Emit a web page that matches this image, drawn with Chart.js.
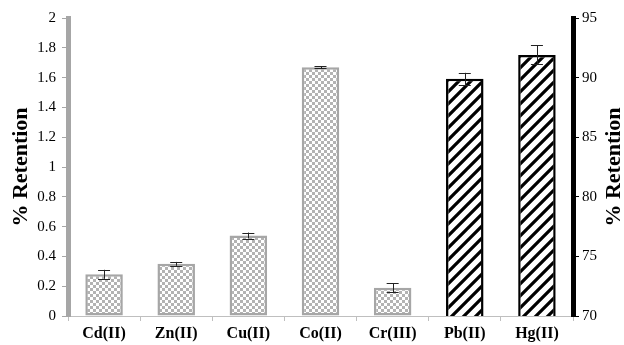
<!DOCTYPE html>
<html>
<head>
<meta charset="utf-8">
<script src="https://cdn.jsdelivr.net/npm/chart.js@4/dist/chart.umd.min.js"></script>
<style>
  html, body { margin: 0; padding: 0; background: #ffffff; }
  #wrap { width: 624px; height: 345px; }
</style>
</head>
<body>
<div id="wrap"><canvas id="c"></canvas></div>
<script>
// Metal ions and their retention (%); the first five are read on the left axis,
// Pb(II) and Hg(II) on the right axis.
const categories = ['Cd(II)', 'Zn(II)', 'Cu(II)', 'Co(II)', 'Cr(III)', 'Pb(II)', 'Hg(II)'];
const leftValues  = [0.28, 0.35, 0.54, 1.67, 0.19, null, null];
const leftErrors  = [0.03, 0.013, 0.02, 0.006, 0.03, null, null];
const rightValues = [null, null, null, null, null, 89.9, 91.9];
const rightErrors = [null, null, null, null, null, 0.5, 0.8];
const leftTickLabels  = ['0', '0.2', '0.4', '0.6', '0.8', '1', '1.2', '1.4', '1.6', '1.8', '2'];
const rightTickLabels = ['70', '75', '80', '85', '90', '95'];
const axisTitle = '% Retention';

const SERIF = "'Liberation Serif', 'Times New Roman', serif";
const GREY = '#a6a6a6';

function checkerPattern() {
  const p = document.createElement('canvas');
  p.width = 6; p.height = 6;
  const g = p.getContext('2d');
  g.fillStyle = '#ffffff';
  g.fillRect(0, 0, 6, 6);
  g.fillStyle = '#b3b3b3';
  g.fillRect(0, 0, 3, 3);
  g.fillRect(3, 3, 3, 3);
  return g.createPattern(p, 'repeat');
}

function hatchPattern() {
  const s = 12;
  const p = document.createElement('canvas');
  p.width = s; p.height = s;
  const g = p.getContext('2d');
  g.fillStyle = '#ffffff';
  g.fillRect(0, 0, s, s);
  g.strokeStyle = '#000000';
  g.lineWidth = 3.2;
  g.lineCap = 'square';
  g.beginPath();
  g.moveTo(-s, s); g.lineTo(s, -s);
  g.moveTo(0, s * 2); g.lineTo(s * 2, 0);
  g.moveTo(0, s); g.lineTo(s, 0);
  g.stroke();
  return g.createPattern(p, 'repeat');
}

// Error bars with caps, positioned through each dataset's own y scale.
const errorBars = {
  id: 'errorBars',
  afterDatasetsDraw(chart) {
    const ctx = chart.ctx;
    chart.data.datasets.forEach((ds, di) => {
      const meta = chart.getDatasetMeta(di);
      const scale = chart.scales[ds.yAxisID];
      ds.data.forEach((v, i) => {
        const e = ds.errors[i];
        if (v == null || e == null) return;
        const x = meta.data[i].x;
        const yTop = scale.getPixelForValue(v + e);
        const yBot = scale.getPixelForValue(v - e);
        ctx.save();
        ctx.strokeStyle = '#222222';
        ctx.lineWidth = 1;
        ctx.beginPath();
        ctx.moveTo(Math.round(x) + 0.5, yTop);
        ctx.lineTo(Math.round(x) + 0.5, yBot);
        ctx.moveTo(x - 6, Math.round(yTop) + 0.5);
        ctx.lineTo(x + 6, Math.round(yTop) + 0.5);
        ctx.moveTo(x - 6, Math.round(yBot) + 0.5);
        ctx.lineTo(x + 6, Math.round(yBot) + 0.5);
        ctx.stroke();
        ctx.restore();
      });
    });
  }
};

// Title for the right-hand axis, reading bottom to top like the left one.
const rightTitle = {
  id: 'rightTitle',
  afterDraw(chart) {
    const ctx = chart.ctx;
    const area = chart.chartArea;
    ctx.save();
    ctx.translate(614, (area.top + area.bottom) / 2);
    ctx.rotate(-Math.PI / 2);
    ctx.font = 'bold 22px ' + SERIF;
    ctx.fillStyle = '#000000';
    ctx.textAlign = 'center';
    ctx.textBaseline = 'middle';
    ctx.fillText(axisTitle, 0, 0);
    ctx.restore();
  }
};

new Chart(document.getElementById('c'), {
  type: 'bar',
  data: {
    labels: categories,
    datasets: [
      {
        data: leftValues,
        errors: leftErrors,
        yAxisID: 'y',
        backgroundColor: checkerPattern(),
        borderColor: GREY,
        borderWidth: 2.5,
        borderSkipped: false
      },
      {
        data: rightValues,
        errors: rightErrors,
        yAxisID: 'y1',
        backgroundColor: hatchPattern(),
        borderColor: '#000000',
        borderWidth: 2.5,
        borderSkipped: false
      }
    ]
  },
  options: {
    responsive: true,
    maintainAspectRatio: false,
    animation: false,
    devicePixelRatio: 1,
    grouped: false,
    barPercentage: 0.52,
    categoryPercentage: 1.0,
    layout: { padding: { top: 18, left: 0, right: 0, bottom: 0 } },
    plugins: {
      legend: { display: false },
      tooltip: { enabled: false }
    },
    scales: {
      x: {
        offset: true,
        afterFit(s) { s.height = 29; },
        grid: {
          offset: true,
          drawOnChartArea: false,
          drawTicks: true,
          tickLength: 5,
          color: '#bfbfbf'
        },
        border: { display: true, color: '#bfbfbf', width: 1 },
        ticks: {
          color: '#000000',
          padding: 3,
          font: { family: SERIF, size: 16, weight: 'bold' }
        }
      },
      y: {
        position: 'left',
        min: 0,
        max: 2,
        afterFit(s) { s.width = 68; },
        afterBuildTicks(s) {
          s.ticks = leftTickLabels.map(t => ({ value: parseFloat(t) }));
        },
        grid: {
          drawOnChartArea: false,
          drawTicks: true,
          tickLength: 6,
          color: GREY
        },
        border: { display: true, color: GREY, width: 5 },
        ticks: {
          color: '#000000',
          padding: 6,
          font: { family: SERIF, size: 15 },
          callback: (v, i) => leftTickLabels[i]
        },
        title: {
          display: true,
          text: axisTitle,
          color: '#000000',
          padding: { top: 8, bottom: 0 },
          font: { family: SERIF, size: 22, weight: 'bold' }
        }
      },
      y1: {
        position: 'right',
        min: 70,
        max: 95,
        afterFit(s) { s.width = 51; },
        afterBuildTicks(s) {
          s.ticks = rightTickLabels.map(t => ({ value: parseFloat(t) }));
        },
        grid: {
          drawOnChartArea: false,
          drawTicks: true,
          tickLength: 6,
          color: '#000000'
        },
        border: { display: true, color: '#000000', width: 5 },
        ticks: {
          color: '#000000',
          padding: 3,
          font: { family: SERIF, size: 15 },
          callback: (v, i) => rightTickLabels[i]
        }
      }
    }
  },
  plugins: [errorBars, rightTitle]
});
</script>
</body>
</html>
